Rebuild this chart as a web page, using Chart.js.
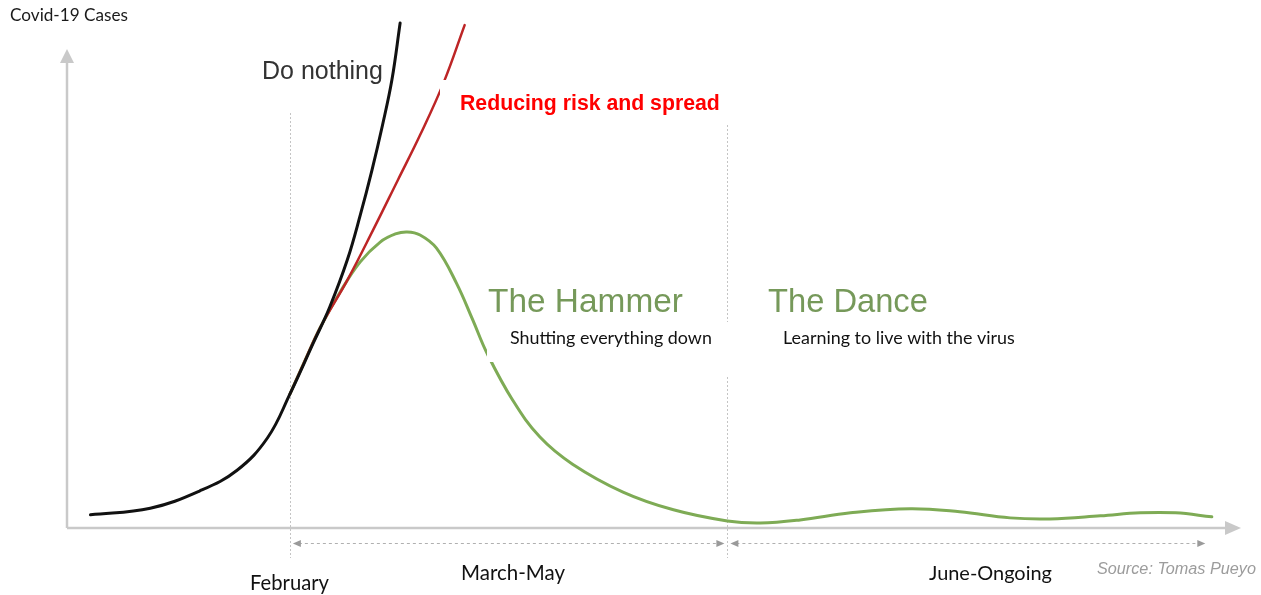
<!DOCTYPE html>
<html>
<head>
<meta charset="utf-8">
<title>Covid-19 Cases - The Hammer and the Dance</title>
<script src="https://cdn.jsdelivr.net/npm/chart.js@4/dist/chart.umd.min.js"></script>
<style>
  html, body { margin: 0; padding: 0; background: #fff; overflow: hidden; }
  canvas { display: block; }
</style>
</head>
<body>
<canvas id="myChart" width="1261" height="595"></canvas>
<script>
// time in arbitrary units (0-100), cases relative (0-100)
const doNothingX = [2.0, 7.1, 11.3, 14.5, 17.1, 19.0, 21.0, 22.4, 23.9, 25.0, 26.0, 26.9, 27.7, 28.4];
const doNothingY = [2.4, 3.7, 7.1, 11.2, 17.6, 26.2, 36.3, 43.4, 52.7, 61.5, 70.4, 79.3, 88.2, 99.4];

const reducingX = [19.0, 20.3, 21.6, 23.9, 26.1, 28.2, 30.1, 32.1, 33.9];
const reducingY = [26.2, 32.9, 39.4, 48.7, 58.6, 68.4, 77.3, 87.6, 99.0];

const hammerDanceX = [19.0, 20.3, 21.6, 23.3, 25.0, 26.7, 28.0, 29.0, 30.1, 31.5, 33.2, 34.6, 35.8, 38.0, 40.3,
  43.1, 47.4, 51.7, 56.3, 59.1, 62.5, 66.8, 71.9, 76.1, 80.4, 83.8, 88.1, 91.5, 94.5, 97.6];
const hammerDanceY = [26.2, 32.9, 39.4, 46.4, 52.3, 56.2, 57.8, 58.2, 57.6, 55.0, 48.1, 40.8, 34.3, 25.0, 17.8,
  12.4, 6.9, 3.4, 1.2, 0.8, 1.4, 2.8, 3.6, 3.0, 1.8, 1.6, 2.2, 2.8, 2.8, 2.0];

// phase boundaries (same x units) and labels
const phaseStarts = [19.0, 56.3];
const phaseEnd = 97.3;
const periodLabels = ["February", "March-May", "June-Ongoing"];

const toPoints = (xs, ys) => xs.map((x, i) => ({ x: x, y: ys[i] }));

const fitText = (ctx, text, x, y, width, style, family) => {
  ctx.font = `${style} 20px ${family}`;
  const size = (20 * width) / ctx.measureText(text).width;
  ctx.font = `${style} ${size}px ${family}`;
  ctx.fillText(text, x, y);
};

const arrowHead = (ctx, tipX, tipY, dir, len, half) => {
  ctx.beginPath();
  if (dir === "up") {
    ctx.moveTo(tipX, tipY);
    ctx.lineTo(tipX - half, tipY + len);
    ctx.lineTo(tipX + half, tipY + len);
  } else {
    const s = dir === "right" ? -1 : 1;
    ctx.moveTo(tipX, tipY);
    ctx.lineTo(tipX + s * len, tipY - half);
    ctx.lineTo(tipX + s * len, tipY + half);
  }
  ctx.closePath();
  ctx.fill();
};

const decorations = {
  id: "decorations",
  beforeDatasetsDraw(chart) {
    const { ctx, chartArea, scales } = chart;
    const x = scales.x;
    ctx.save();

    // axes
    ctx.strokeStyle = "#c9c9c9";
    ctx.fillStyle = "#c9c9c9";
    ctx.lineWidth = 2.5;
    ctx.beginPath();
    ctx.moveTo(chartArea.left, chartArea.bottom + 1);
    ctx.lineTo(chartArea.left, 60);
    ctx.moveTo(chartArea.left, chartArea.bottom + 1);
    ctx.lineTo(chartArea.right - 12, chartArea.bottom + 1);
    ctx.stroke();
    arrowHead(ctx, chartArea.left, 49, "up", 14, 7);
    arrowHead(ctx, chartArea.right + 1, chartArea.bottom + 1, "right", 16, 7);

    // dotted phase lines
    ctx.strokeStyle = "#c4c4c4";
    ctx.lineWidth = 1;
    ctx.setLineDash([2, 2]);
    const tops = [113, 125];
    phaseStarts.forEach((p, i) => {
      const px = Math.round(x.getPixelForValue(p)) + 0.5;
      ctx.beginPath();
      ctx.moveTo(px, tops[i]);
      ctx.lineTo(px, 558);
      ctx.stroke();
    });

    // dashed period arrows
    const ay = 543.5;
    const bounds = [phaseStarts[0], phaseStarts[1], phaseEnd];
    ctx.strokeStyle = "#b0b0b0";
    ctx.setLineDash([3, 3]);
    ctx.fillStyle = "#9a9a9a";
    for (let i = 0; i < 2; i++) {
      const a = x.getPixelForValue(bounds[i]) + 3;
      const b = x.getPixelForValue(bounds[i + 1]) - 3;
      ctx.beginPath();
      ctx.moveTo(a + 6, ay);
      ctx.lineTo(b - 6, ay);
      ctx.stroke();
      arrowHead(ctx, a, ay, "left", 8, 3.5);
      arrowHead(ctx, b, ay, "right", 8, 3.5);
    }
    ctx.restore();
  },
  afterDatasetsDraw(chart) {
    const { ctx } = chart;
    ctx.save();
    ctx.textBaseline = "alphabetic";
    ctx.textAlign = "left";

    // white label boxes that cover the curves, as in the original slide
    ctx.fillStyle = "#fff";
    ctx.fillRect(440, 80, 295, 38);
    ctx.fillRect(487, 322, 230, 40);
    ctx.fillRect(723, 322, 300, 55);

    ctx.fillStyle = "#1a1a1a";
    fitText(ctx, "Covid-19 Cases", 10, 21, 118, "normal", "Lato, 'Open Sans', sans-serif");

    ctx.fillStyle = "#333";
    fitText(ctx, "Do nothing", 262, 79, 121, "normal", "'Liberation Sans', Arial, sans-serif");

    ctx.fillStyle = "#ff0000";
    fitText(ctx, "Reducing risk and spread", 460, 110, 260, "bold", "'Liberation Sans', Arial, sans-serif");

    ctx.fillStyle = "#76995a";
    fitText(ctx, "The Hammer", 488, 312, 195, "normal", "'Liberation Sans', Arial, sans-serif");
    fitText(ctx, "The Dance", 768, 312, 160, "normal", "'Liberation Sans', Arial, sans-serif");

    ctx.fillStyle = "#111";
    const cal = "Lato, 'Open Sans', sans-serif";
    fitText(ctx, "Shutting everything down", 510, 344, 202, "normal", cal);
    fitText(ctx, "Learning to live with the virus", 783, 344, 232, "normal", cal);

    fitText(ctx, periodLabels[0], 250, 590, 79, "normal", cal);
    fitText(ctx, periodLabels[1], 461, 580, 104, "normal", cal);
    fitText(ctx, periodLabels[2], 929, 580, 123, "normal", cal);

    ctx.fillStyle = "#9c9c9c";
    fitText(ctx, "Source: Tomas Pueyo", 1097, 574, 159, "italic", "'Liberation Sans', Arial, sans-serif");
    ctx.restore();
  },
};

new Chart(document.getElementById("myChart"), {
  type: "line",
  data: {
    datasets: [
      {
        label: "Do nothing",
        data: toPoints(doNothingX, doNothingY),
        borderColor: "#111111",
        borderWidth: 3,
      },
      {
        label: "Reducing risk and spread",
        data: toPoints(reducingX, reducingY),
        borderColor: "#bd2526",
        borderWidth: 2.5,
      },
      {
        label: "The Hammer and the Dance",
        data: toPoints(hammerDanceX, hammerDanceY),
        borderColor: "#7eab55",
        borderWidth: 3,
      },
    ],
  },
  options: {
    responsive: false,
    animation: false,
    devicePixelRatio: 1,
    layout: { padding: { left: 67, right: 21, top: 20, bottom: 68 } },
    elements: {
      point: { radius: 0, hoverRadius: 0 },
      line: { tension: 0.4, fill: false, borderCapStyle: "round" },
    },
    datasets: { line: { clip: false } },
    scales: {
      x: { type: "linear", min: 0, max: 100, display: false },
      y: { min: 0, max: 100, display: false },
    },
    plugins: {
      legend: { display: false },
      tooltip: { enabled: false },
    },
  },
  plugins: [decorations],
});
</script>
</body>
</html>
